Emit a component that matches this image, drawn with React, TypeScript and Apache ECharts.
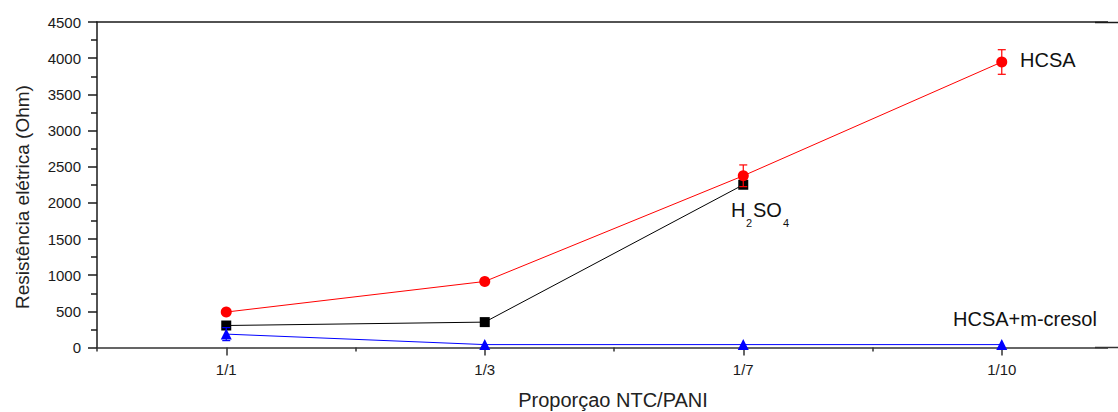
import React, { useEffect, useRef } from "react";
import * as echarts from "echarts";

const categories = ["1/1", "1/3", "1/7", "1/10"];
const hcsa = [490, 913, 2374, 3947];
const hcsaErr = [30, 30, 150, 170];
const h2so4 = [304, 351, 2250];
const cresol = [185, 40, 40, 40];
const cresolErr = [90, 0, 0, 0];

const TICK_FONT = "Liberation Sans, Arial, sans-serif";
const LABEL_FONT = "Liberation Sans, Arial, sans-serif";

function toPoints(vals: number[]) {
  return vals.map((v, i) => [i + 1, v]);
}
function toErr(vals: number[], errs: number[]) {
  return vals.map((v, i) => [i + 1, v - errs[i], v + errs[i]]).filter((d, i) => errs[i] > 0);
}

function errSeries(data: number[][], color: string) {
  return {
    type: "custom",
    xAxisIndex: 0,
    yAxisIndex: 0,
    z: 4,
    clip: false,
    data,
    renderItem: (params: any, api: any) => {
      const x = api.value(0);
      const lo = api.coord([x, api.value(1)]);
      const hi = api.coord([x, api.value(2)]);
      const w = 4;
      const style = { stroke: color, lineWidth: 1.2 };
      return {
        type: "group",
        children: [
          { type: "line", shape: { x1: hi[0], y1: hi[1], x2: lo[0], y2: lo[1] }, style },
          { type: "line", shape: { x1: hi[0] - w, y1: hi[1], x2: hi[0] + w, y2: hi[1] }, style },
          { type: "line", shape: { x1: lo[0] - w, y1: lo[1], x2: lo[0] + w, y2: lo[1] }, style },
        ],
      };
    },
  };
}

const X_MIN = 0.5;
const X_MAX = 4.45;

export default function App() {
  const ref = useRef<HTMLDivElement>(null);
  useEffect(() => {
    if (!ref.current) return;
    document.documentElement.style.overflow = "hidden";
    document.body.style.margin = "0";
    document.body.style.overflow = "hidden";
    const chart = echarts.init(ref.current, undefined, { renderer: "svg" });
    const axisColor = "#1a1a1a";
    const option: any = {
      animation: false,
      backgroundColor: "#fff",
      grid: {
        left: 97,
        top: 22,
        width: 1021.1,
        height: 325.5,
        show: false,
        containLabel: false,
        outerBoundsMode: "none",
      },
      xAxis: [
        {
          type: "value",
          min: X_MIN,
          max: X_MAX,
          position: "bottom",
          splitLine: { show: false },
          axisLine: { show: true, onZero: false, lineStyle: { color: "#333", width: 1.5 } },
          axisTick: {
            show: true,
            length: 8,
            customValues: [1, 2, 3, 4],
            lineStyle: { color: "#333", width: 1.5 },
          },
          axisLabel: {
            show: true,
            customValues: [1, 2, 3, 4],
            margin: 14,
            fontFamily: TICK_FONT,
            fontSize: 15,
            color: "#1a1a1a",
            formatter: (v: number) => categories[Math.round(v) - 1] ?? "",
          },
        },
        {
          type: "value",
          min: X_MIN,
          max: X_MAX,
          position: "bottom",
          splitLine: { show: false },
          axisLine: { show: false },
          axisTick: {
            show: true,
            length: 4,
            customValues: [0.5, 1.5, 2.5, 3.5],
            lineStyle: { color: "#333", width: 1.5 },
          },
          axisLabel: { show: false },
        },
        {
          type: "value",
          min: X_MIN,
          max: X_MAX,
          position: "top",
          splitLine: { show: false },
          axisLine: { show: true, onZero: false, lineStyle: { color: axisColor, width: 1.5 } },
          axisTick: { show: false },
          axisLabel: { show: false },
        },
      ],
      yAxis: {
        type: "value",
        min: 0,
        max: 4500,
        interval: 500,
        splitLine: { show: false },
        axisLine: { show: true, lineStyle: { color: axisColor, width: 1.5 } },
        axisTick: { show: true, length: 9, lineStyle: { color: axisColor, width: 1.5 } },
        minorTick: { show: true, splitNumber: 2, length: 6, lineStyle: { color: axisColor, width: 1.5 } },
        axisLabel: {
          margin: 16,
          fontFamily: TICK_FONT,
          fontSize: 15,
          color: "#1a1a1a",
          formatter: (v: number) => String(v),
        },
      },
      series: [
        {
          type: "line",
          name: "H2SO4",
          data: toPoints(h2so4),
          symbol: "rect",
          symbolSize: 10,
          itemStyle: { color: "#000" },
          lineStyle: { color: "#000", width: 1 },
          z: 3,
        },
        {
          type: "line",
          name: "HCSA",
          data: toPoints(hcsa),
          symbol: "circle",
          symbolSize: 11,
          itemStyle: { color: "#ff0000" },
          lineStyle: { color: "#ff0000", width: 1 },
          z: 5,
        },
        errSeries(toErr(hcsa, hcsaErr), "#ff0000"),
        {
          type: "line",
          name: "HCSA+m-cresol",
          data: toPoints(cresol),
          symbol: "triangle",
          symbolSize: 11,
          itemStyle: { color: "#0000ff" },
          lineStyle: { color: "#0000ff", width: 1 },
          z: 6,
        },
        errSeries(toErr(cresol, cresolErr), "#0000ff"),
      ],
      graphic: [
        {
          type: "rect",
          shape: { x: 1108, y: 0, width: 10, height: 412 },
          style: { fill: "#fff" },
          z: 100,
        },
        {
          type: "line",
          shape: { x1: 1095, y1: 22.5, x2: 1118, y2: 22.5 },
          style: { stroke: axisColor, lineWidth: 1.5 },
          z: 110,
        },
        {
          type: "line",
          shape: { x1: 1095, y1: 347.5, x2: 1118, y2: 347.5 },
          style: { stroke: "#333", lineWidth: 1.5 },
          z: 110,
        },
        {
          type: "text",
          x: 22,
          y: 197,
          rotation: Math.PI / 2,
          style: {
            text: "Resistência elétrica (Ohm)",
            fontFamily: LABEL_FONT,
            fontSize: 19,
            fill: "#222",
            align: "center",
            verticalAlign: "middle",
          },
        },
        {
          type: "text",
          x: 613,
          y: 400,
          style: {
            text: "Proporçao NTC/PANI",
            fontFamily: LABEL_FONT,
            fontSize: 20,
            fill: "#222",
            align: "center",
            verticalAlign: "middle",
          },
        },
        {
          type: "text",
          x: 1020,
          y: 60,
          style: { text: "HCSA", fontFamily: LABEL_FONT, fontSize: 20, fill: "#111", align: "left", verticalAlign: "middle" },
        },
        {
          type: "text",
          x: 953,
          y: 319,
          z: 120,
          style: { text: "HCSA+m-cresol", fontFamily: LABEL_FONT, fontSize: 20, fill: "#111", align: "left", verticalAlign: "middle" },
        },
        {
          type: "group",
          x: 731,
          y: 210,
          children: [
            { type: "text", x: 0, y: 0, style: { text: "H", fontFamily: LABEL_FONT, fontSize: 20, fill: "#111", verticalAlign: "middle" } },
            { type: "text", x: 15, y: 13, style: { text: "2", fontFamily: LABEL_FONT, fontSize: 11, fill: "#111", verticalAlign: "middle" } },
            { type: "text", x: 22, y: 0, style: { text: "SO", fontFamily: LABEL_FONT, fontSize: 20, fill: "#111", verticalAlign: "middle" } },
            { type: "text", x: 52, y: 13, style: { text: "4", fontFamily: LABEL_FONT, fontSize: 11, fill: "#111", verticalAlign: "middle" } },
          ],
        },
      ],
    };
    chart.setOption(option);
    return () => chart.dispose();
  }, []);
  return (
    <div
      ref={ref}
      style={{ position: "fixed", left: 0, top: 0, width: 1118, height: 412, background: "#fff" }}
    />
  );
}
